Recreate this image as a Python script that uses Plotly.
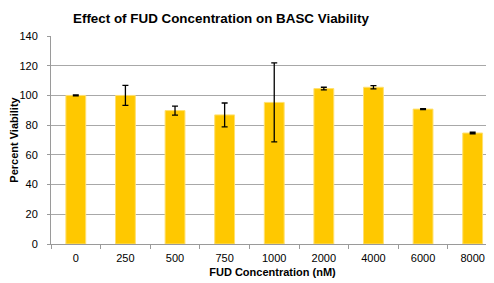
import plotly.graph_objects as go

categories = ["0", "250", "500", "750", "1000", "2000", "4000", "6000", "8000"]
viability = [100, 100, 89.8, 86.9, 95.3, 104.6, 105.5, 90.8, 74.7]
errors = [0.3, 6.7, 3.0, 8.0, 26.6, 0.9, 1.1, 0.3, 0.5]

font_family = "Liberation Sans, Arial, sans-serif"

# page body has an 8px default margin, so the figure is 8px smaller
W, H = 486, 275

fig = go.Figure(go.Bar(
    x=categories,
    y=viability,
    marker=dict(color="#FFC800", line=dict(width=1, color="#FFE070")),
    error_y=dict(type="data", array=errors, visible=True, color="#000000",
                 thickness=1.3, width=3),
    width=0.4,
))

fig.update_layout(
    width=W, height=H,
    margin=dict(l=43, r=0, t=28, b=39, autoexpand=False),
    paper_bgcolor="white", plot_bgcolor="white",
    showlegend=False,
    font=dict(family=font_family, size=11, color="#000000"),
    title=dict(text="<b>Effect of FUD Concentration on BASC Viability</b>",
               x=65/W, xanchor="left", y=1-10/H, yanchor="middle",
               xref="container", yref="container",
               font=dict(size=13.4, family=font_family)),
    xaxis=dict(
        title=dict(text="<b>FUD Concentration (nM)</b>", font=dict(size=11), standoff=5),
        range=[-0.5, 8.43], automargin=False,
        showline=True, linecolor="#9A9A9A", linewidth=1,
        ticks="outside", ticklen=4, tickcolor="#9A9A9A", tickson="boundaries",
        ticklabelstandoff=4,
        showgrid=False, tickfont=dict(size=11),
    ),
    yaxis=dict(
        title=dict(text="<b>Percent Viability</b>", font=dict(size=11), standoff=7),
        range=[0, 140], dtick=20, automargin=False,
        showline=True, linecolor="#9A9A9A", linewidth=1,
        ticks="outside", ticklen=3, tickcolor="#9A9A9A",
        ticklabelstandoff=7,
        showgrid=True, gridcolor="#A8A8A8", gridwidth=1,
        zeroline=False, tickfont=dict(size=11),
    ),
)

fig.write_html("out.html")
